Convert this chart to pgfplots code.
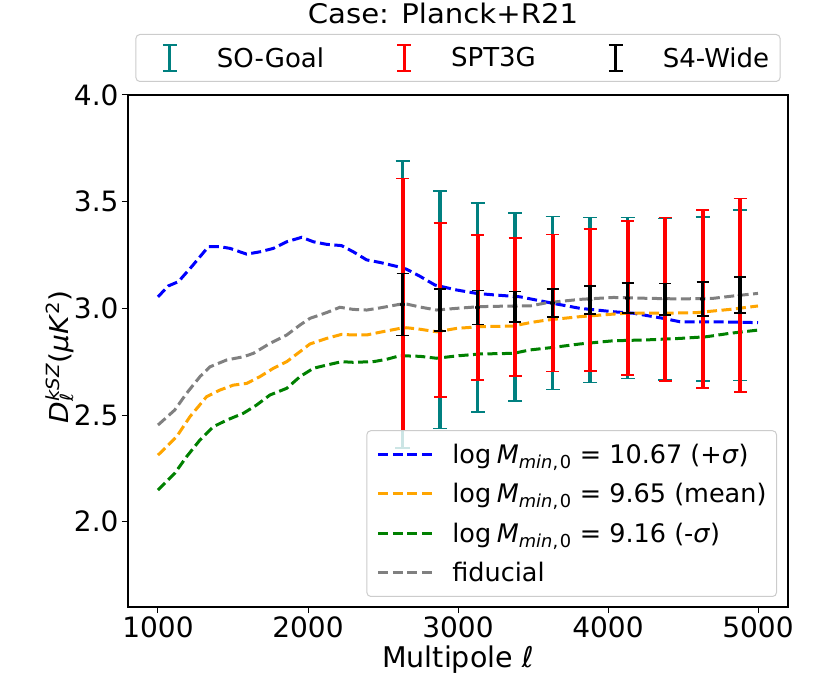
\documentclass[border=0pt]{standalone}
\usepackage{pgfplots}
\pgfplotsset{compat=1.18}
\usepackage{pgfplotstable}
\usepackage{fontspec}
\setmainfont{DejaVu Sans}
\definecolor{mplblue}{RGB}{0,0,255}
\definecolor{mplorange}{RGB}{255,165,0}
\definecolor{mplgreen}{RGB}{0,128,0}
\definecolor{mplgray}{RGB}{128,128,128}
\definecolor{mplteal}{RGB}{0,128,128}
\definecolor{mplred}{RGB}{255,0,0}
\definecolor{legedge}{RGB}{204,204,204}

\pgfplotstableread{
x y eblack ered eteal
2630 3.018 0.146 0.590 0.674
2880 2.993 0.099 0.408 0.557
3130 3.004 0.079 0.340 0.490
3380 3.007 0.071 0.324 0.440
3630 3.025 0.067 0.322 0.406
3880 3.039 0.066 0.333 0.386
4130 3.048 0.070 0.360 0.377
4380 3.043 0.074 0.383 0.378
4630 3.044 0.079 0.417 0.385
4880 3.062 0.085 0.453 0.400
}\bars

\pgfplotstableread{
x y
1000 3.054
1069 3.105
1136 3.125
1224 3.195
1336 3.289
1413 3.289
1480 3.281
1591 3.254
1680 3.265
1769 3.281
1858 3.312
1958 3.333
2036 3.312
2124 3.300
2224 3.294
2302 3.265
2391 3.227
2480 3.215
2613 3.193
2658 3.183
2747 3.150
2847 3.109
2991 3.086
3124 3.070
3258 3.062
3413 3.054
3636 3.023
3813 3.000
4036 2.984
4169 2.977
4369 2.953
4480 2.937
4702 2.937
5000 2.933
}\bluecurve

\pgfplotstableread{
x y
1000 2.453
1111 2.523
1191 2.602
1280 2.680
1347 2.726
1458 2.758
1569 2.773
1636 2.789
1747 2.836
1858 2.875
1947 2.922
2013 2.953
2124 2.980
2213 3.005
2302 2.995
2391 2.992
2480 3.002
2613 3.019
2658 3.020
2747 3.006
2858 2.992
2991 3.000
3147 3.008
3369 3.011
3480 3.011
3591 3.026
3813 3.042
4036 3.051
4258 3.047
4480 3.044
4702 3.047
4836 3.058
5000 3.070
}\graycurve

\pgfplotstableread{
x y
1000 2.312
1124 2.398
1213 2.492
1324 2.586
1413 2.617
1502 2.640
1591 2.648
1680 2.680
1769 2.719
1858 2.750
1947 2.797
2013 2.833
2124 2.859
2224 2.878
2302 2.875
2391 2.875
2480 2.888
2613 2.906
2658 2.909
2747 2.902
2858 2.890
2991 2.906
3147 2.914
3369 2.917
3480 2.933
3591 2.945
3813 2.961
4036 2.973
4124 2.977
4369 2.977
4591 2.980
4813 2.995
5000 3.011
}\orangecurve

\pgfplotstableread{
x y
1000 2.148
1111 2.226
1191 2.305
1280 2.383
1369 2.445
1458 2.476
1569 2.508
1658 2.547
1747 2.594
1858 2.625
1947 2.680
2036 2.719
2124 2.734
2224 2.750
2302 2.747
2436 2.750
2524 2.761
2613 2.778
2747 2.775
2858 2.766
2991 2.777
3147 2.786
3369 2.789
3480 2.805
3636 2.817
3813 2.833
4036 2.848
4258 2.852
4480 2.859
4658 2.867
4813 2.883
5000 2.898
}\greencurve

\tikzset{curve/.style={dash pattern=on 10bp off 4.5bp, line width=3bp}}
\newcommand{\legfont}{\fontsize{26bp}{31bp}\selectfont}
\newcommand{\botlegfont}{\fontsize{25.5bp}{30bp}\selectfont}
\newcommand{\tickfont}{\fontsize{28bp}{33bp}\selectfont}
\newcommand{\labfont}{\fontsize{28.5bp}{34bp}\selectfont}
\newcommand{\ylabfont}{\fontsize{26bp}{31bp}\selectfont}
\newcommand{\titfont}{\fontsize{27bp}{32bp}\selectfont}
\newcommand{\Mmin}{log\hspace{0.22em}\textit{M}\textsubscript{\textit{min},\hspace{0.1em}0}}

\begin{document}
\begin{tikzpicture}
\begin{axis}[
  name=ax,
  width=660bp, height=512bp, scale only axis,
  xmin=800, xmax=5200, ymin=1.6, ymax=4.0,
  xtick={1000,2000,3000,4000,5000},
  xticklabels={1000,2000,3000,4000,5000},
  ytick={2,2.5,3,3.5,4},
  yticklabels={2.0,2.5,3.0,3.5,4.0},
  tick align=outside, tick pos=left,
  major tick length=6bp,
  every tick/.style={black, line width=1bp},
  axis line style={line width=2.5bp},
  ticklabel style={font=\tickfont},
  xlabel={Multipole \textit{ℓ}},
  ylabel={\scalebox{1.08}[1]{\textit{D}\rlap{\textsubscript{\textit{ℓ}}}\textsuperscript{\textit{kSZ}}(\textit{μK}\textsuperscript{2})}},
  xlabel style={font=\labfont, at={(axis description cs:0.5,0)}, anchor=base, yshift=-60bp},
  ylabel style={font=\ylabfont, at={([xshift=-68bp,yshift=-6bp]axis description cs:0,0.5)}, anchor=center},
  title={\scalebox{1.08}[1]{Case: Planck+R21}},
  title style={font=\titfont, at={([xshift=-15bp]axis description cs:0.5,1)}, anchor=base, yshift=66bp},
  legend columns=3,
  legend style={at={(axis description cs:0.5,1)}, anchor=south, yshift=13bp,
    draw=legedge, line width=1bp, rounded corners=4bp, fill=white, fill opacity=0.8, text opacity=1,
    inner xsep=11bp, inner ysep=9bp, font=\legfont,
    nodes={inner sep=0pt},
    /tikz/every even column/.append style={column sep=57bp}},
]
\addplot[mplblue, curve, forget plot] table[x=x,y=y] {\bluecurve};
\addplot[mplorange, curve, forget plot] table[x=x,y=y] {\orangecurve};
\addplot[mplgreen, curve, forget plot] table[x=x,y=y] {\greencurve};
\addplot[mplgray, curve, forget plot] table[x=x,y=y] {\graycurve};

\addplot[only marks, mark=none, forget plot,
  error bars/.cd, y dir=both, y explicit, error mark=-,
  error bar style={mplteal, solid, line width=3.5bp},
  error mark options={rotate=90, mplteal, solid, line width=1.6bp, mark size=7bp}]
  table[x=x, y=y, y error=eteal] {\bars};
\addplot[only marks, mark=none, forget plot,
  error bars/.cd, y dir=both, y explicit, error mark=-,
  error bar style={mplred, solid, line width=4bp},
  error mark options={rotate=90, mplred, solid, line width=1.6bp, mark size=6.5bp}]
  table[x=x, y=y, y error=ered] {\bars};
\addplot[only marks, mark=none, forget plot,
  error bars/.cd, y dir=both, y explicit, error mark=-,
  error bar style={black, solid, line width=3.5bp},
  error mark options={rotate=90, black, solid, line width=1.6bp, mark size=6bp}]
  table[x=x, y=y, y error=eblack] {\bars};

\addlegendimage{legend image code/.code={
  \path[draw=none,fill=none] (-23bp,-13bp) rectangle (47bp,13bp);
  \draw[mplteal, line width=3bp, rounded corners=0pt] (0,-13bp) -- (0,13bp);
  \draw[mplteal, line width=1.3bp, rounded corners=0pt] (-7bp,-13bp) -- (7bp,-13bp) (-7bp,13bp) -- (7bp,13bp);}}
\addlegendentry{SO-Goal}
\addlegendimage{legend image code/.code={
  \path[draw=none,fill=none] (-23bp,-13bp) rectangle (47bp,13bp);
  \draw[mplred, line width=3bp, rounded corners=0pt] (0,-13bp) -- (0,13bp);
  \draw[mplred, line width=1.3bp, rounded corners=0pt] (-7bp,-13bp) -- (7bp,-13bp) (-7bp,13bp) -- (7bp,13bp);}}
\addlegendentry{SPT3G}
\addlegendimage{legend image code/.code={
  \path[draw=none,fill=none] (-23bp,-13bp) rectangle (47bp,13bp);
  \draw[black, line width=3bp, rounded corners=0pt] (0,-13bp) -- (0,13bp);
  \draw[black, line width=1.3bp, rounded corners=0pt] (-7bp,-13bp) -- (7bp,-13bp) (-7bp,13bp) -- (7bp,13bp);}}
\addlegendentry{S4-Wide}
\end{axis}

\begin{axis}[
  at={(ax.south west)}, anchor=south west,
  width=660bp, height=512bp, scale only axis, hide axis,
  xmin=800, xmax=5200, ymin=1.6, ymax=4.0,
  legend style={at={(axis description cs:1,0)}, anchor=south east, xshift=-11bp, yshift=10bp,
    draw=legedge, line width=1bp, rounded corners=4bp, fill=white, fill opacity=0.8, text opacity=1,
    inner xsep=10bp, inner ysep=4.3bp, font=\botlegfont,
    nodes={inner sep=0pt}},
  legend cell align=left,
]
\addlegendimage{legend image code/.code={
  \path[draw=none,fill=none] (0,-19.65bp) rectangle (74bp,19.65bp);
  \draw[mplblue, curve, rounded corners=0pt] (0,0) -- (54bp,0);}}
\addlegendentry{\Mmin\ = 10.67 (+\textit{σ})}
\addlegendimage{legend image code/.code={
  \path[draw=none,fill=none] (0,-19.65bp) rectangle (74bp,19.65bp);
  \draw[mplorange, curve, rounded corners=0pt] (0,0) -- (54bp,0);}}
\addlegendentry{\Mmin\ = 9.65 (mean)}
\addlegendimage{legend image code/.code={
  \path[draw=none,fill=none] (0,-19.65bp) rectangle (74bp,19.65bp);
  \draw[mplgreen, curve, rounded corners=0pt] (0,0) -- (54bp,0);}}
\addlegendentry{\Mmin\ = 9.16 (-\textit{σ})}
\addlegendimage{legend image code/.code={
  \path[draw=none,fill=none] (0,-19.65bp) rectangle (74bp,19.65bp);
  \draw[mplgray, curve, rounded corners=0pt] (0,0) -- (54bp,0);}}
\addlegendentry{fiducial}
\end{axis}
\pgfresetboundingbox
\path[use as bounding box] ([xshift=-128bp,yshift=-73bp]ax.south west) rectangle ([xshift=42bp,yshift=95bp]ax.north east);
\end{tikzpicture}
\end{document}
